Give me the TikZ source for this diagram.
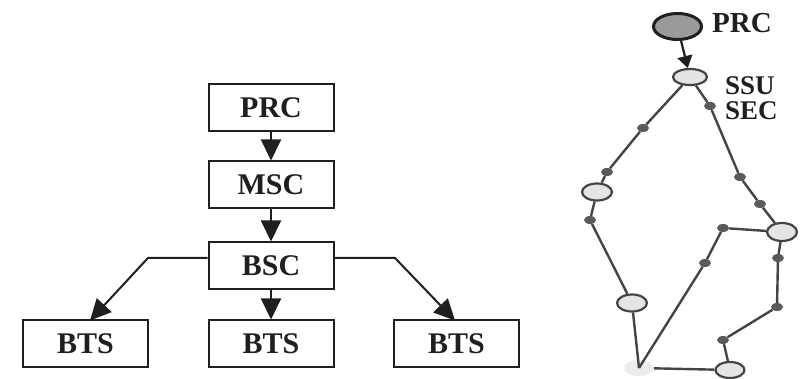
\documentclass[tikz,border=0pt]{standalone}
\usepackage{fontspec}
\setmainfont{Liberation Serif}
\usetikzlibrary{arrows.meta,shapes.geometric}
\definecolor{ink}{HTML}{1F1F1F}
\definecolor{ring}{HTML}{444444}
\definecolor{dotc}{HTML}{5A5A5A}
\definecolor{lightfill}{HTML}{E4E4E4}
\definecolor{prcfill}{HTML}{9A9A9A}
\tikzset{
  box/.style={draw=ink,line width=2pt,rectangle,minimum width=125pt,minimum height=47pt,inner sep=0pt,
    font=\fontsize{30}{30}\selectfont\bfseries,text=ink},
  arr/.style={draw=ink,line width=2pt,-{Triangle[length=21pt,width=20pt]}},
  lbl/.style={font=\fontsize{29}{29}\selectfont\bfseries,text=ink,inner sep=0pt},
  ell/.style={ellipse,draw=ring,line width=2.2pt,fill=lightfill,minimum width=30pt,minimum height=17pt,inner sep=0pt},
  dotn/.style={ellipse,fill=dotc,minimum width=12pt,minimum height=8pt,inner sep=0pt},
  link/.style={draw=ring,line width=2.4pt}
}
\begin{document}
\begin{tikzpicture}[x=1pt,y=-1pt]
\useasboundingbox (0,0) rectangle (807,379);
% left hierarchy
\node[box] (prc) at (271,107.5) {PRC};
\node[box] (msc) at (271,185) {MSC};
\node[box] (bsc) at (271,266) {BSC};
\node[box] (bts1) at (85.5,344) {BTS};
\node[box] (bts2) at (271,344) {BTS};
\node[box] (bts3) at (456.5,344) {BTS};
\coordinate (bl) at (148,258);
\coordinate (br) at (395,258);
\draw[arr] (prc) -- (msc);
\draw[arr] (msc) -- (bsc);
\draw[arr] (bsc) -- (bts2);
\draw[arr] (bsc.west |- bl) -- (bl) -- (90,320.5);
\draw[arr] (bsc.east |- br) -- (br) -- (455,320.5);
% right ring
\node[ellipse,draw=ink,line width=3pt,fill=prcfill,minimum width=48pt,minimum height=26pt,inner sep=0pt] (rprc) at (677.5,26.5) {};
\node[lbl,anchor=west] (rprcl) at (712,23) {PRC};
\node[ell,minimum width=34pt,minimum height=16pt] (ssu) at (690,77) {};
\node[lbl,anchor=west,align=left,font=\fontsize{27}{25}\selectfont\bfseries] (ssul) at (725,98.5) {SSU\\SEC};
\node[dotn] (d1) at (643,128) {};
\node[dotn] (d2) at (607,172) {};
\node[ell] (e1) at (597,192) {};
\node[dotn] (d3) at (590,220) {};
\node[ell] (e2) at (632,303) {};
\node[ellipse,fill=lightfill!70,minimum width=30pt,minimum height=16pt,inner sep=0pt] (b) at (639,368) {};
\node[dotn] (d4) at (705,263) {};
\node[dotn] (d5) at (723,228) {};
\node[ell,minimum height=18pt] (e3) at (782,232) {};
\node[ell,minimum width=29pt,minimum height=16pt] (e4) at (730,370) {};
\node[dotn] (d6) at (723,340) {};
\node[dotn] (d7) at (777,307) {};
\node[dotn] (d8) at (778,258) {};
\node[dotn] (d9) at (710,106) {};
\node[dotn] (d10) at (740,177) {};
\node[dotn] (d11) at (760,204) {};
\draw[draw=ink,line width=2.2pt,-{Triangle[length=12pt,width=15pt]}] (rprc) -- (ssu);
\draw[link] (ssu) -- (d1) -- (d2) -- (e1) -- (d3) -- (e2) -- (b.center);
\draw[link] (b.center) -- (d4) -- (d5) -- (e3);
\draw[link] (b) -- (e4) -- (d6) -- (d7) -- (d8) -- (e3);
\draw[link] (ssu) -- (d9) -- (d10) -- (d11) -- (e3);
\end{tikzpicture}
\end{document}
